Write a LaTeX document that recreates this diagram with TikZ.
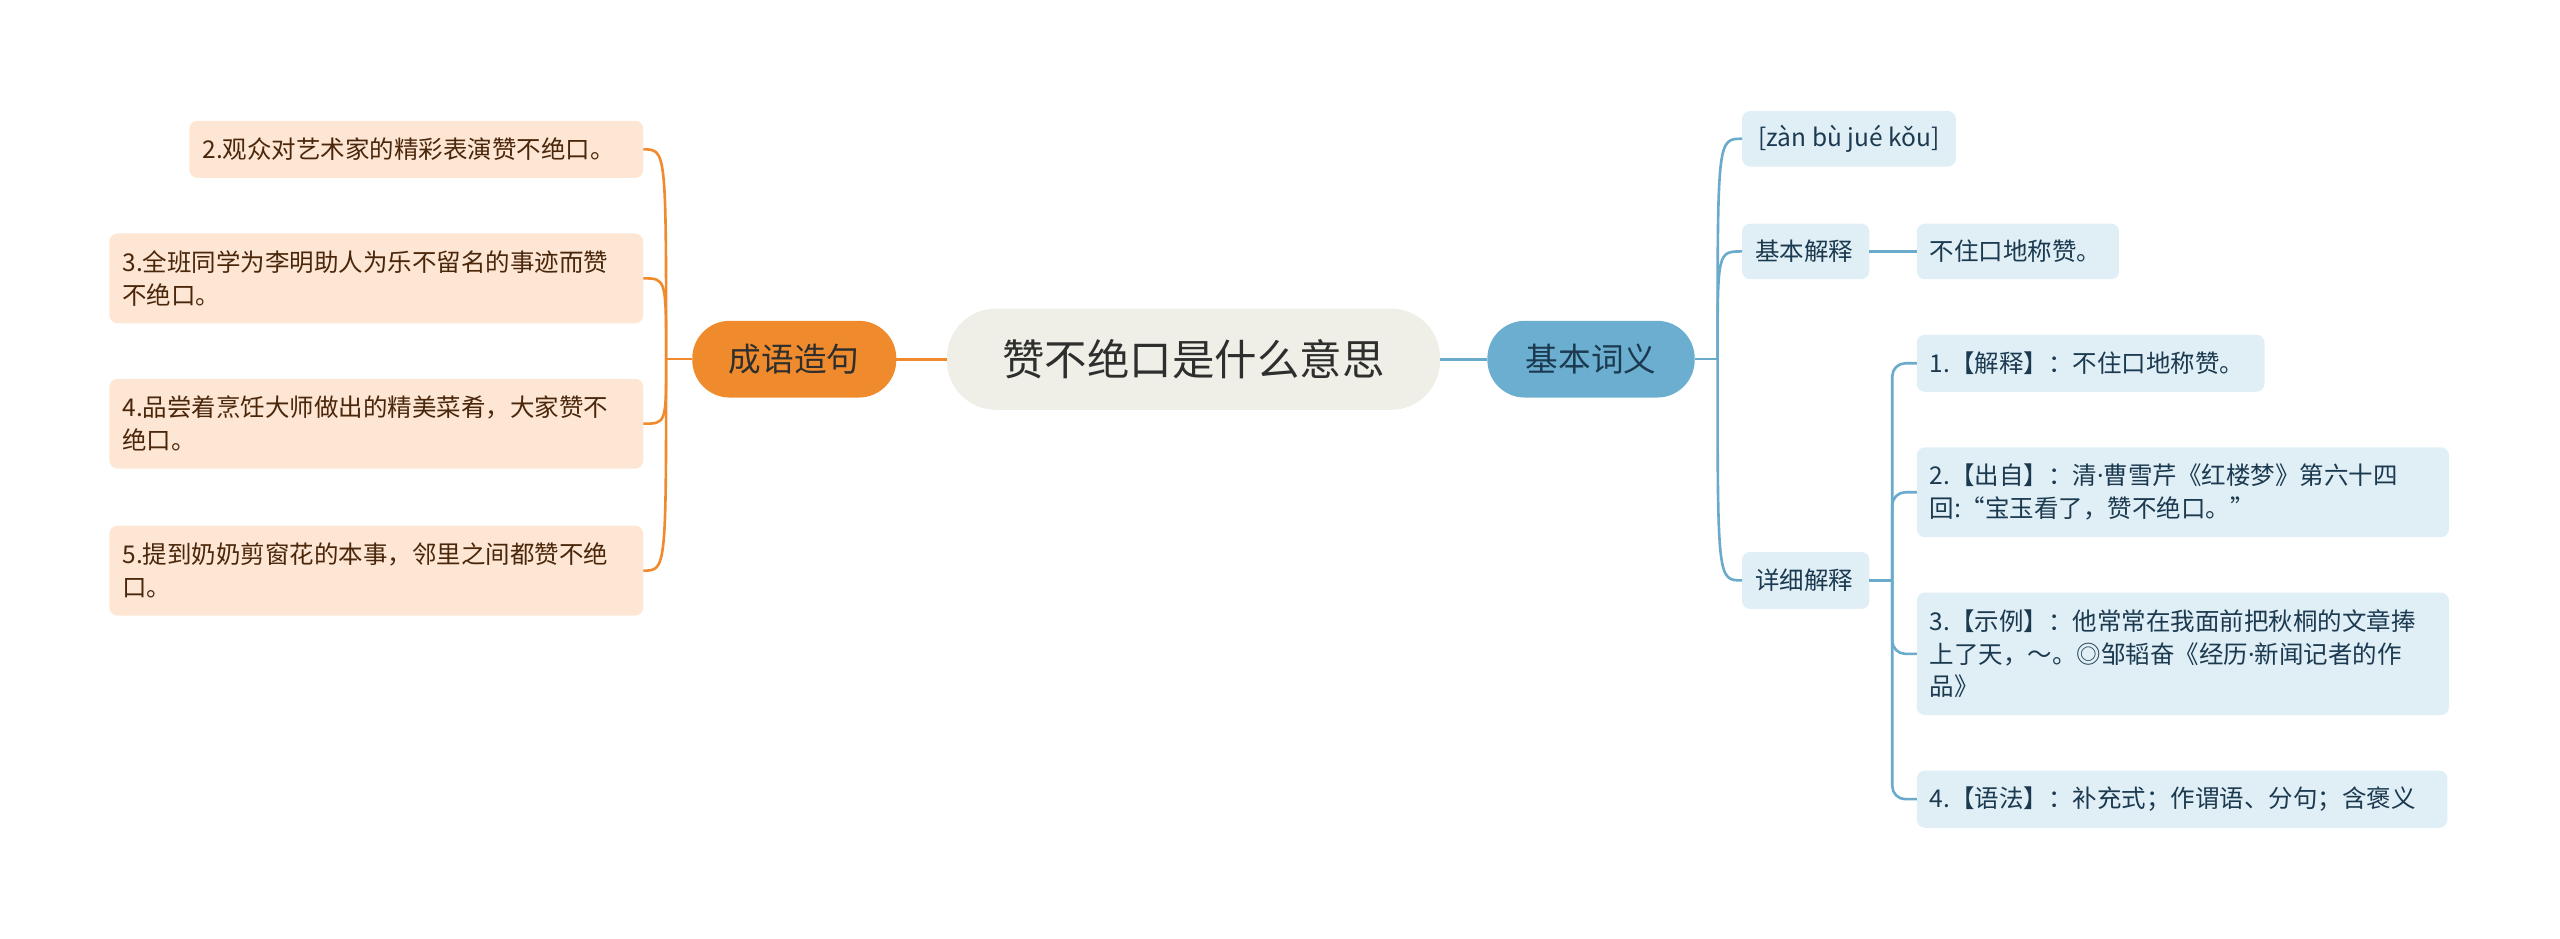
\documentclass[tikz,border=0pt]{standalone}
\usepackage{fontspec}
\setmainfont{Noto Sans CJK SC}
\newfontfamily\latinf{Noto Sans}
\newcommand{\mdot}{{\latinf ·}}
\usetikzlibrary{calc}
\definecolor{orng}{HTML}{F08B2D}
\definecolor{opeach}{HTML}{FDE6D4}
\definecolor{obrown}{HTML}{4A260A}
\definecolor{cfill}{HTML}{EFEFE7}
\definecolor{ctext}{HTML}{2E2E2E}
\definecolor{bpill}{HTML}{6BAED0}
\definecolor{blight}{HTML}{E0EEF6}
\definecolor{bline}{HTML}{6AAACB}
\definecolor{btext}{HTML}{1B3A50}
\begin{document}
\begin{tikzpicture}[x=1pt,y=-1pt,
  every node/.style={inner sep=0pt, outer sep=0pt},
  obox/.style={fill=opeach, rounded corners=5pt, text=obrown, inner xsep=8pt, inner ysep=0pt, align=left, font=\fontsize{15}{20}\selectfont},
  bluebox/.style={fill=blight, rounded corners=5pt, text=btext, inner xsep=8pt, inner ysep=0pt, align=left, font=\fontsize{15}{20}\selectfont},
  pillnode/.style={rounded corners=23pt, minimum width=126pt, minimum height=47pt, align=center, font=\fontsize{20}{24}\selectfont},
  oline/.style={draw=orng, line width=1.6pt},
  bluline/.style={draw=bline, line width=1.6pt},
]
\useasboundingbox (0,0) rectangle (1568,575);

% central
\node[fill=cfill, rounded corners=30pt, minimum width=302pt, minimum height=62pt, text=ctext, font=\fontsize{26}{30}\selectfont] (c) at (731,220) {赞不绝口是什么意思};

% left main
\node[pillnode, fill=orng, text=ctext, minimum width=125pt] (cy) at (486.5,220) {成语造句};
% right main
\node[pillnode, fill=bpill, text=btext, minimum width=127pt] (jb) at (974.5,220) {基本词义};

% orange children
\node[obox, text width=262pt, minimum height=35pt, anchor=east] (o2) at (394,91.5) {2.观众对艺术家的精彩表演赞不绝口。};
\node[obox, text width=311pt, minimum height=55pt, anchor=east] (o3) at (394,170.5) {3.全班同学为李明助人为乐不留名的事迹而赞\\不绝口。};
\node[obox, text width=311pt, minimum height=55pt, anchor=east] (o4) at (394,259.5) {4.品尝着烹饪大师做出的精美菜肴，大家赞不\\绝口。};
\node[obox, text width=311pt, minimum height=55pt, anchor=east] (o5) at (394,349.5) {5.提到奶奶剪窗花的本事，邻里之间都赞不绝\\口。};

% blue children
\node[bluebox, minimum width=131pt, minimum height=34pt, anchor=west] (py) at (1067,85) {[zàn bù jué kǒu]};
\node[bluebox, text width=62pt, minimum height=34pt, anchor=west] (jbjs) at (1067,154) {基本解释};
\node[bluebox, text width=108pt, minimum height=34pt, anchor=west] (bzk) at (1174,154) {不住口地称赞。};
\node[bluebox, text width=62pt, minimum height=35pt, anchor=west] (xxjs) at (1067,355.5) {详细解释};
\node[bluebox, text width=197pt, minimum height=35pt, anchor=west] (d1) at (1174,222.5) {1.【解释】：不住口地称赞。};
\node[bluebox, text width=310pt, minimum height=55pt, anchor=west] (d2) at (1174,301.5) {2.【出自】：清\mdot 曹雪芹《红楼梦》第六十四\\回{\latinf :}“宝玉看了，赞不绝口。”};
\node[bluebox, text width=310pt, minimum height=75pt, anchor=west] (d3) at (1174,400.5) {3.【示例】：他常常在我面前把秋桐的文章捧\\上了天，～。◎邹韬奋《经历\mdot 新闻记者的作\\品》};
\node[bluebox, text width=309pt, minimum height=35pt, anchor=west] (d4) at (1174,489.5) {4.【语法】：补充式；作谓语、分句；含褒义};

% junctions
\coordinate (oj) at (408,220);
\coordinate (bj) at (1052,220);
\coordinate (dj) at (1159,355.5);

% main connectors
\draw[draw=orng, line width=2pt] (c.west) -- (cy.east);
\draw[draw=bline, line width=2pt] (c.east) -- (jb.west);

% orange branches
\draw[oline] (cy.west) -- (oj);
\foreach \n in {o2,o3,o4,o5}{
  \draw[oline] (\n.east) .. controls (oj |- \n.east) and (oj |- \n.east) .. (oj);
}

% blue branches
\draw[bluline] (jb.east) -- (bj);
\foreach \n in {py,jbjs,xxjs}{
  \draw[bluline] (bj) .. controls (bj |- \n.west) and (bj |- \n.west) .. (\n.west);
}
\draw[bluline] (jbjs.east) -- (bzk.west);
\draw[bluline] (xxjs.east) -- (dj);
\foreach \n in {d1,d2,d3,d4}{
  \draw[bluline, rounded corners=8pt] (dj) |- (\n.west);
}
\end{tikzpicture}
\end{document}
